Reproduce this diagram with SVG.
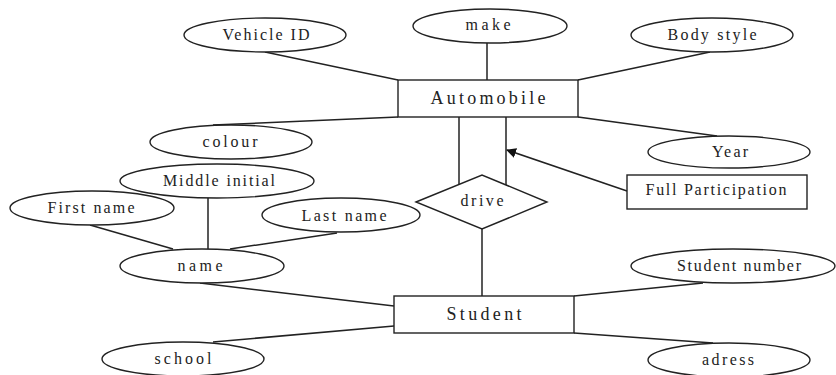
<svg xmlns="http://www.w3.org/2000/svg" width="836" height="375" viewBox="0 0 836 375">
<style>
.s{fill:#fff;stroke:#222;stroke-width:1.4}
.c{stroke:#222;stroke-width:1.5;fill:none}
text{font-family:"Liberation Serif","Times New Roman",serif;fill:#222;text-anchor:middle}
.a{font-size:16px}
.e{font-size:18px}
</style>
<defs>
<marker id="arr" markerWidth="10" markerHeight="10" refX="9" refY="5" orient="auto" markerUnits="userSpaceOnUse">
<path d="M0,0 L10,5 L0,10 z" fill="#111"/>
</marker>
</defs>
<rect width="836" height="375" fill="#fff"/>
<g id="connectors">
<line class="c" x1="265" y1="52" x2="398" y2="80"/>
<line class="c" x1="487" y1="43" x2="487" y2="80"/>
<line class="c" x1="710" y1="52" x2="578" y2="80"/>
<line class="c" x1="578" y1="117" x2="717" y2="136"/>
<line class="c" x1="398" y1="117" x2="213" y2="125"/>
<line class="c" x1="459" y1="117" x2="459" y2="185"/>
<line class="c" x1="506" y1="117" x2="506" y2="185"/>
<line class="c" x1="627" y1="191" x2="507" y2="150" marker-end="url(#arr)"/>
<line class="c" x1="482" y1="229" x2="482" y2="296"/>
<line class="c" x1="208" y1="198" x2="208" y2="249"/>
<line class="c" x1="90" y1="225" x2="173" y2="249"/>
<line class="c" x1="337" y1="233" x2="230" y2="249"/>
<line class="c" x1="200" y1="283" x2="394" y2="306"/>
<line class="c" x1="213" y1="342" x2="394" y2="326"/>
<line class="c" x1="574" y1="296" x2="703" y2="283"/>
<line class="c" x1="574" y1="333" x2="713" y2="343"/>
</g>
<g id="automobile"><rect class="s" x="398" y="80" width="180" height="37"/><text class="e" x="488" y="104" textLength="115" lengthAdjust="spacing">Automobile</text></g>
<g id="student"><rect class="s" x="394" y="296" width="180" height="37"/><text class="e" x="484" y="320" textLength="75" lengthAdjust="spacing">Student</text></g>
<g id="drive"><polygon class="s" points="416,202 482,175 547,202 482,229"/><text class="a" x="482" y="206" textLength="43" lengthAdjust="spacing">drive</text></g>
<g id="full-participation"><rect class="s" x="627" y="175" width="180" height="34"/><text class="a" x="716" y="195" textLength="141" lengthAdjust="spacing">Full Participation</text></g>
<g id="vehicle-id"><ellipse class="s" cx="265" cy="35" rx="81" ry="17"/><text class="a" x="266" y="40" textLength="87" lengthAdjust="spacing">Vehicle ID</text></g>
<g id="make"><ellipse class="s" cx="490" cy="26" rx="77" ry="17"/><text class="a" x="488" y="30" textLength="45" lengthAdjust="spacing">make</text></g>
<g id="body-style"><ellipse class="s" cx="712" cy="35" rx="81" ry="17"/><text class="a" x="712" y="40" textLength="89" lengthAdjust="spacing">Body style</text></g>
<g id="year"><ellipse class="s" cx="729" cy="152" rx="81" ry="16"/><text class="a" x="730" y="157" textLength="36" lengthAdjust="spacing">Year</text></g>
<g id="colour"><ellipse class="s" cx="231" cy="142" rx="81" ry="17"/><text class="a" x="230" y="147" textLength="55" lengthAdjust="spacing">colour</text></g>
<g id="middle-initial"><ellipse class="s" cx="217" cy="181" rx="97" ry="17"/><text class="a" x="219" y="186" textLength="112" lengthAdjust="spacing">Middle initial</text></g>
<g id="first-name"><ellipse class="s" cx="92" cy="208" rx="82" ry="17"/><text class="a" x="91" y="213" textLength="87" lengthAdjust="spacing">First name</text></g>
<g id="last-name"><ellipse class="s" cx="341" cy="215" rx="79" ry="17"/><text class="a" x="344" y="221" textLength="85" lengthAdjust="spacing">Last name</text></g>
<g id="name"><ellipse class="s" cx="202" cy="266" rx="82" ry="17"/><text class="a" x="200" y="271" textLength="45" lengthAdjust="spacing">name</text></g>
<g id="school"><ellipse class="s" cx="183" cy="359" rx="81" ry="17"/><text class="a" x="183" y="364" textLength="57" lengthAdjust="spacing">school</text></g>
<g id="student-number"><ellipse class="s" cx="733" cy="266" rx="102" ry="17"/><text class="a" x="739" y="271" textLength="124" lengthAdjust="spacing">Student number</text></g>
<g id="adress"><ellipse class="s" cx="729" cy="360" rx="81" ry="17"/><text class="a" x="728" y="365" textLength="52" lengthAdjust="spacing">adress</text></g>
</svg>
